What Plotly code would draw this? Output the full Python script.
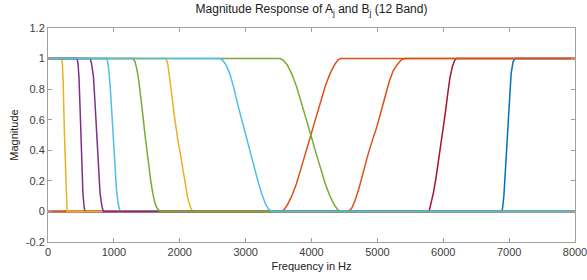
import plotly.graph_objects as go

# Each curve: frequencies [Hz] and magnitudes.
# Highpass B_j curves (0 -> 1)
b7000_f = [0, 6885, 6900, 6920, 6945, 6975, 7005, 7030, 7060, 7090, 8000]
b7000_m = [0, 0, 0.02, 0.1, 0.28, 0.5, 0.72, 0.9, 0.98, 1, 1]
b6000_f = [0, 5770, 5790, 5815, 5850, 5890, 5940, 5990, 6030, 6065, 6100, 6140, 6175, 6200, 8000]
b6000_m = [0, 0, 0.01, 0.05, 0.12, 0.22, 0.36, 0.5, 0.64, 0.76, 0.87, 0.95, 0.99, 1, 1]
b5000_f = [0, 4560, 4610, 4660, 4720, 4780, 4850, 4920, 4990, 5060, 5120, 5180, 5240, 5300, 5360, 5420, 8000]
b5000_m = [0, 0, 0.02, 0.07, 0.15, 0.25, 0.36, 0.46, 0.55, 0.66, 0.76, 0.85, 0.92, 0.96, 0.99, 1, 1]
b4000_f = [0, 3540, 3580, 3630, 3700, 3770, 3840, 3910, 3990, 4070, 4140, 4210, 4280, 4350, 4400, 4440, 8000]
b4000_m = [0, 0, 0.01, 0.04, 0.1, 0.18, 0.28, 0.38, 0.5, 0.61, 0.72, 0.82, 0.9, 0.96, 0.99, 1, 1]

# Lowpass A_j curves (1 -> 0)
a4000_f = [0, 3520, 3570, 3630, 3700, 3770, 3840, 3910, 3990, 4070, 4140, 4210, 4280, 4350, 4400, 4440, 8000]
a4000_m = [1, 1, 0.99, 0.96, 0.9, 0.82, 0.72, 0.61, 0.5, 0.38, 0.28, 0.18, 0.1, 0.04, 0.01, 0, 0]
a2000_f = [0, 1795, 1820, 1850, 1880, 1910, 1940, 1970, 2000, 2040, 2080, 2120, 2160, 2196, 8000]
a2000_m = [1, 1, 0.96, 0.87, 0.76, 0.65, 0.55, 0.47, 0.4, 0.29, 0.18, 0.09, 0.03, 0, 0]
a1000_f = [0, 890, 905, 925, 950, 975, 995, 1015, 1040, 1065, 1085, 1095, 8000]
a1000_m = [1, 1, 0.98, 0.92, 0.78, 0.6, 0.45, 0.3, 0.14, 0.05, 0.01, 0, 0]
a500_f = [0, 440, 455, 470, 485, 500, 515, 530, 548, 560, 8000]
a500_m = [1, 1, 0.97, 0.88, 0.7, 0.5, 0.3, 0.12, 0.03, 0, 0]
a250_f = [0, 208, 218, 230, 250, 270, 282, 290, 8000]
a250_m = [1, 1, 0.97, 0.85, 0.5, 0.15, 0.03, 0, 0]
a750_f = [0, 640, 660, 690, 715, 740, 765, 790, 820, 840, 8000]
a750_m = [1, 1, 0.97, 0.88, 0.7, 0.5, 0.3, 0.12, 0.03, 0, 0]
a1500_f = [0, 1292, 1320, 1350, 1380, 1410, 1440, 1470, 1500, 1530, 1560, 1590, 1620, 1650, 1680, 1700, 8000]
a1500_m = [1, 1, 0.98, 0.93, 0.85, 0.75, 0.63, 0.51, 0.4, 0.29, 0.2, 0.12, 0.06, 0.025, 0.005, 0, 0]
a3000_f = [0, 2605, 2650, 2700, 2760, 2820, 2880, 2940, 3000, 3060, 3120, 3180, 3240, 3300, 3350, 3400, 8000]
a3000_m = [1, 1, 0.99, 0.96, 0.9, 0.81, 0.7, 0.6, 0.5, 0.4, 0.3, 0.21, 0.12, 0.05, 0.015, 0, 0]

x_tick_vals = [0, 1000, 2000, 3000, 4000, 5000, 6000, 7000, 8000]
y_tick_vals = [-0.2, 0, 0.2, 0.4, 0.6, 0.8, 1, 1.2]
y_tick_text = ["-0.2", "0", "0.2", "0.4", "0.6", "0.8", "1", "1.2"]

colors = {
    "blue": "#0072BD", "orange": "#D95319", "yellow": "#EDB120",
    "purple": "#7E2F8E", "green": "#77AC30", "lightblue": "#4DBEEE",
    "darkred": "#A2142F",
}

curves = [
    ("B 7000", "blue", b7000_f, b7000_m),
    ("B 6000", "darkred", b6000_f, b6000_m),
    ("B 5000", "orange", b5000_f, b5000_m),
    ("B 4000", "orange", b4000_f, b4000_m),
    ("A 4000", "green", a4000_f, a4000_m),
    ("A 2000", "yellow", a2000_f, a2000_m),
    ("A 1000", "lightblue", a1000_f, a1000_m),
    ("A 500", "purple", a500_f, a500_m),
    ("A 250", "yellow", a250_f, a250_m),
    ("A 750", "purple", a750_f, a750_m),
    ("A 1500", "green", a1500_f, a1500_m),
    ("A 3000", "lightblue", a3000_f, a3000_m),
]

fig = go.Figure()
for name, ck, f, m in curves:
    fig.add_trace(go.Scatter(
        x=f, y=m, mode="lines", name=name,
        line=dict(color=colors[ck], width=1.5),
        showlegend=False,
    ))

font_family = "Liberation Sans, Arial, sans-serif"
axis_common = dict(
    showline=True, linecolor="#a0a0a0", linewidth=1, mirror="ticks",
    ticks="inside", ticklen=4, tickcolor="#a0a0a0",
    showgrid=False, zeroline=False, automargin=False,
    ticklabeloverflow="allow",
    tickfont=dict(family=font_family, size=11, color="#404040"),
)

fig.update_layout(
    width=587, height=280,
    margin=dict(l=48, r=12, t=28, b=38),
    paper_bgcolor="white", plot_bgcolor="white",
    title=dict(
        text="Magnitude Response of A<sub>j</sub> and B<sub>j</sub> (12 Band)",
        x=0.5, xref="paper", xanchor="center",
        y=0.983, yref="container", yanchor="top",
        font=dict(family=font_family, size=12, color="#202020"),
        automargin=False,
    ),
    xaxis=dict(
        range=[0, 8000], tickvals=x_tick_vals,
        title=dict(text="Frequency in Hz", standoff=5,
                   font=dict(family=font_family, size=11, color="#202020")),
        **axis_common,
    ),
    yaxis=dict(
        range=[-0.2, 1.2], tickvals=y_tick_vals, ticktext=y_tick_text,
        title=dict(text="Magnitude", standoff=4,
                   font=dict(family=font_family, size=11, color="#202020")),
        **axis_common,
    ),
)

fig.write_html(
    "out.html",
    config={"displayModeBar": False},
    post_script="document.body.style.margin='0';document.body.style.overflow='hidden';",
)
